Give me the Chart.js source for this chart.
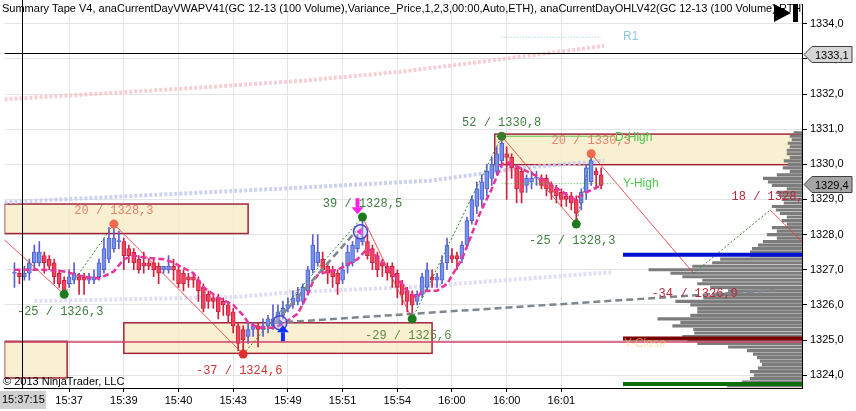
<!DOCTYPE html>
<html>
<head>
<meta charset="utf-8">
<script src="https://cdn.jsdelivr.net/npm/chart.js@4.4.0/dist/chart.umd.min.js"></script>
<style>
  html, body { margin: 0; padding: 0; background: #fff; }
</style>
</head>
<body>
<canvas id="chart" width="856" height="411"></canvas>
<script>
// GC 12-13, 100 volume bars
const opens  = [1326.9,1326.9,1326.8,1326.9,1327.2,1327.2,1327.4,1327.3,1327.2,1326.9,1326.7,1326.6,1326.7,1326.8,1326.8,1326.7,1326.7,1326.8,1327.0,1327.3,
                1327.6,1327.8,1327.8,1327.6,1327.5,1327.3,1327.2,1327.2,1327.2,1327.1,1327.0,1327.0,1327.1,1327.0,1326.9,1326.8,1326.8,1326.7,1326.5,1326.3,
                1326.2,1326.2,1326.1,1326.0,1325.8,1325.4,1325.3,1325.1,1325.3,1325.4,1325.3,1325.4,1325.4,1325.6,1325.7,1325.9,1326.0,1326.1,1326.1,1326.4,
                1327.0,1327.2,1327.3,1327.1,1327.0,1326.9,1326.7,1327.1,1327.2,1327.6,1327.8,1327.8,1327.6,1327.4,1327.2,1327.1,1327.1,1326.9,1326.6,1326.4,
                1326.3,1326.1,1326.3,1326.5,1326.8,1326.7,1326.7,1327.2,1327.4,1327.4,1327.3,1327.7,1328.4,1328.8,1329.0,1329.3,1329.6,1329.8,1330.1,1330.3,
                1330.2,1329.9,1329.8,1329.4,1329.5,1329.6,1329.6,1329.6,1329.4,1329.3,1329.2,1329.1,1329.1,1329.0,1328.9,1329.2,1329.5,1329.8,1329.7];
const highs  = [1327.2,1327.0,1327.1,1327.3,1327.7,1327.8,1327.5,1327.4,1327.3,1327.0,1326.8,1327.0,1327.2,1326.9,1326.9,1326.9,1327.0,1327.3,1327.9,1328.2,
                1328.3,1328.1,1327.9,1327.7,1327.6,1327.4,1327.5,1327.3,1327.3,1327.2,1327.1,1327.4,1327.3,1327.1,1327.0,1326.9,1326.9,1326.8,1326.6,1326.4,
                1326.3,1326.3,1326.2,1326.1,1325.9,1325.5,1325.4,1325.5,1325.5,1325.5,1325.6,1325.7,1326.0,1326.0,1326.1,1326.2,1326.4,1326.5,1326.6,1327.1,
                1328.0,1328.0,1327.5,1327.2,1327.1,1327.0,1327.2,1327.7,1327.8,1328.0,1328.5,1328.0,1327.7,1327.5,1327.3,1327.2,1327.2,1327.0,1326.7,1326.5,
                1326.4,1326.4,1326.9,1327.2,1327.0,1326.9,1327.4,1327.9,1327.6,1327.5,1327.8,1328.5,1329.1,1329.5,1329.7,1330.0,1330.2,1330.5,1330.8,1330.5,
                1330.3,1330.0,1329.9,1329.7,1329.8,1329.8,1329.7,1329.7,1329.5,1329.4,1329.3,1329.2,1329.2,1329.1,1329.3,1330.0,1330.3,1329.9,1329.9];
const lows   = [1326.5,1326.6,1326.7,1326.7,1327.0,1327.1,1326.9,1327.0,1326.6,1326.5,1326.3,1326.5,1326.6,1326.3,1326.3,1326.6,1326.6,1326.7,1326.9,1327.2,
                1327.5,1327.6,1327.0,1327.2,1327.0,1326.9,1326.9,1327.0,1326.8,1326.6,1326.9,1326.9,1326.7,1326.5,1326.4,1326.5,1326.5,1326.1,1325.8,1325.9,
                1325.9,1325.6,1325.7,1325.5,1325.2,1324.7,1324.6,1324.9,1325.1,1324.8,1325.1,1325.2,1325.3,1325.5,1325.6,1325.8,1325.9,1326.0,1326.0,1326.3,
                1326.9,1327.1,1326.9,1326.6,1326.5,1326.3,1326.6,1326.9,1327.1,1327.5,1327.7,1327.3,1327.0,1326.8,1326.8,1326.7,1326.5,1326.2,1326.0,1325.8,
                1325.6,1326.0,1326.2,1326.4,1326.5,1326.5,1326.6,1327.0,1327.2,1327.0,1327.2,1327.6,1328.3,1328.6,1328.8,1329.1,1329.4,1329.7,1329.9,1329.0,
                1329.6,1328.9,1328.9,1329.2,1329.3,1329.4,1329.3,1329.1,1329.0,1328.9,1328.8,1328.8,1328.7,1328.3,1328.7,1329.0,1329.4,1329.3,1329.3];
const closes = [1326.9,1326.8,1326.9,1327.2,1327.5,1327.5,1327.2,1327.1,1326.8,1326.6,1326.4,1326.8,1326.9,1326.7,1326.7,1326.8,1326.8,1327.2,1327.6,1327.9,
                1327.9,1327.8,1327.4,1327.4,1327.2,1327.0,1327.1,1327.1,1327.0,1326.9,1327.1,1327.1,1327.0,1326.6,1326.6,1326.7,1326.7,1326.4,1325.9,1326.1,
                1326.1,1325.8,1326.0,1325.7,1325.4,1324.9,1325.0,1325.3,1325.4,1325.3,1325.4,1325.6,1325.6,1325.8,1325.9,1326.0,1326.2,1326.3,1326.5,1327.0,
                1327.7,1327.5,1327.0,1326.9,1326.8,1326.6,1327.0,1327.5,1327.7,1327.9,1327.9,1327.4,1327.2,1327.0,1327.1,1326.9,1326.8,1326.5,1326.3,1326.1,
                1326.0,1326.3,1326.8,1327.0,1326.7,1326.8,1327.2,1327.7,1327.3,1327.3,1327.7,1328.4,1329.0,1329.3,1329.5,1329.8,1330.0,1330.3,1330.6,1330.2,
                1329.9,1329.3,1329.2,1329.6,1329.6,1329.6,1329.4,1329.3,1329.2,1329.1,1329.0,1329.0,1328.9,1328.6,1329.2,1329.9,1330.1,1329.7,1329.4];

// time axis
const tickIdx    = [11, 22, 33, 44, 55, 66, 77, 88, 99, 110];
const tickLabels = ['15:37', '15:39', '15:40', '15:43', '15:49', '15:51', '15:54', '16:00', '16:00', '16:01'];
const priceTicks = [1324, 1325, 1326, 1327, 1328, 1329, 1330, 1331, 1332, 1333, 1334];

// trailing line (pink dashed)
const trailIdx   = [0, 6, 10, 14, 17, 20, 22, 24, 26, 30, 32, 36, 38, 41, 44, 46, 47, 49, 52, 54, 57, 59, 60, 61, 63, 65, 67, 69, 71, 72, 74, 77, 79, 81, 82, 85, 87, 90, 91.4, 93.6, 96, 98, 99.4, 106, 112.6, 115, 118];
const trailPrice = [1327.0, 1327.0, 1326.95, 1326.8, 1326.75, 1326.95, 1327.3, 1327.4, 1327.35, 1327.3, 1327.2, 1326.9, 1326.5, 1326.2, 1326.0, 1325.7, 1325.5, 1325.35, 1325.35, 1325.45, 1325.75, 1326.3, 1326.65, 1326.85, 1326.95, 1327.0, 1327.15, 1327.3, 1327.6, 1327.5, 1327.2, 1326.75, 1326.4, 1326.2, 1326.4, 1326.4, 1326.6, 1327.3, 1327.8, 1328.6, 1329.3, 1330.0, 1330.05, 1329.6, 1329.0, 1329.2, 1329.4];

// VWAP bands
const vwapHiIdx   = [-2, 18, 38, 58, 84, 102, 118.6];
const vwapHiPrice = [1328.92, 1329.06, 1329.2, 1329.34, 1329.54, 1329.9, 1330.1];
const vwapLoIdx   = [4, 44, 56, 83, 88, 120];
const vwapLoPrice = [1326.11, 1326.22, 1326.36, 1326.53, 1326.59, 1326.93];
const bandTopIdx   = [-2, 18, 38, 58, 78, 94, 106, 118.6];
const bandTopPrice = [1331.85, 1332.02, 1332.19, 1332.38, 1332.64, 1332.92, 1333.14, 1333.37];

// swings
const swingIdx   = [10, 20, 46, 70, 80, 98, 113, 116];
const swingPrice = [1326.3, 1328.3, 1324.6, 1328.5, 1325.6, 1330.8, 1328.3, 1330.3];
const swingNum   = [-25, 20, -37, 39, -29, 52, -25, 20];
const projIdx    = [136.6, 152];
const projPrice  = [1326.9, 1328.7];
const projNum    = [-34, 18];
const zigStart   = 1327.85;
const zigEnd     = 1327.8;

// volume profile
const profilePrice = [1330.9,1330.8,1330.7,1330.6,1330.5,1330.4,1330.3,1330.2,1330.1,1330.0,
                      1329.9,1329.8,1329.7,1329.6,1329.5,1329.4,1329.3,1329.2,1329.1,1329.0,
                      1328.9,1328.8,1328.7,1328.6,1328.5,1328.4,1328.3,1328.2,1328.1,1328.0,
                      1327.9,1327.8,1327.7,1327.6,1327.5,1327.4,1327.3,1327.2,1327.1,1327.0,
                      1326.9,1326.8,1326.7,1326.6,1326.5,1326.4,1326.3,1326.2,1326.1,1326.0,
                      1325.9,1325.8,1325.7,1325.6,1325.5,1325.4,1325.3,1325.2,1325.1,1325.0,
                      1324.9,1324.8,1324.7,1324.6,1324.5,1324.4,1324.3,1324.2,1324.1,1324.0,
                      1323.9,1323.8,1323.7];
const profileVol = [8,12,10,14,12,15,15,12,18,14,
                    19,12,25,39,34,30,15,25,22,20,
                    18,30,26,22,15,20,15,30,25,35,
                    25,39,44,50,52,52,82,90,110,154,
                    132,120,100,105,92,74,90,99,127,112,
                    105,105,112,145,122,130,109,108,120,115,
                    105,74,55,49,45,42,40,44,52,48,
                    52,60,75];

// levels / zones
const yHigh = 1329.45, dHigh = 1330.8, r1 = 1333.62;
const levelBlue = 1327.43, levelRed = 1325.04, levelGreen = 1323.75, levelLine = 1324.94;
const boxStart  = [-2, 22, -2, 96.6];
const boxEnd    = [47, 84, 10.6, 158.4];
const boxTop    = [1328.87, 1325.49, 1324.96, 1330.86];
const boxBottom = [1328.03, 1324.62, 1323.92, 1329.99];
const anchorIdx = 52.4, anchorPrice = 1325.49;
const rayEndIdx = [153, 68.6], rayEndPrice = [1326.42, 1328.08];
const lastPrice = 1329.4, crossPrice = 1333.1;

const xMin = -2, xMax = 158.4, yMin = 1323.634, yMax = 1334.549;
const volPerBar = 5;   // profile volume units per bar slot on the time axis
const fmt = v => v.toFixed(1).replace('.', ',');
const up = i => closes[i] >= opens[i];
const pts = (xs, ys) => xs.map((x, k) => ({ x: x, y: ys[k] }));
const seg = (x0, x1, v) => [{ x: x0, y: v }, { x: x1, y: v }];

const swingDot   = ['#1e7a1e', '#f06a50', '#e03030', '#1e7a1e', '#1e7a1e', '#3a7a2a', '#1e7a1e', '#f06a50'];
const swingColor = ['#3f7f3f', '#e8806c', '#d03434', '#3f7f3f', '#5a8a4a', '#3f7f3f', '#3f7f3f', '#e8806c'];

const zig = [{ x: xMin, y: zigStart }].concat(pts(swingIdx, swingPrice), pts(projIdx, projPrice), [{ x: xMax, y: zigEnd }]);

const overlay = {
  id: 'overlay',
  beforeDatasetsDraw(chart) {
    const { ctx, chartArea: a, scales: { x, y } } = chart;
    ctx.save();
    ctx.beginPath(); ctx.rect(a.left, a.top, a.right - a.left, a.bottom - a.top); ctx.clip();
    for (let k = 0; k < boxStart.length; k++) {
      const x0 = x.getPixelForValue(boxStart[k]), x1 = x.getPixelForValue(boxEnd[k]);
      const y0 = y.getPixelForValue(boxTop[k]), y1 = y.getPixelForValue(boxBottom[k]);
      ctx.fillStyle = 'rgba(246,236,198,0.8)';
      ctx.fillRect(x0, y0, x1 - x0, y1 - y0);
      ctx.strokeStyle = '#a3243a';
      ctx.lineWidth = 1.5;
      ctx.strokeRect(x0, y0, x1 - x0, y1 - y0);
    }
    ctx.restore();
  },
  afterDatasetsDraw(chart) {
    const { ctx, chartArea: a, scales: { x, y } } = chart;
    ctx.save();
    ctx.beginPath(); ctx.rect(0, 0, a.right, a.bottom); ctx.clip();

    // swing labels
    ctx.font = '12px "Liberation Mono", "DejaVu Sans Mono", monospace';
    ctx.textAlign = 'center';
    ctx.textBaseline = 'middle';
    swingIdx.forEach((i, k) => {
      const px = x.getPixelForValue(i), py = y.getPixelForValue(swingPrice[k]);
      ctx.fillStyle = swingColor[k];
      ctx.fillText(swingNum[k] + ' / ' + fmt(swingPrice[k]), px + (swingNum[k] < 0 ? -4 : 0), py + (swingNum[k] < 0 ? 17 : -13));
    });
    projIdx.forEach((i, k) => {
      const px = x.getPixelForValue(i), py = y.getPixelForValue(projPrice[k]);
      ctx.fillStyle = '#b8283c';
      ctx.fillText(projNum[k] + ' / ' + fmt(projPrice[k]), px + 1, py + (projNum[k] < 0 ? 21 : -13));
    });

    // level names
    ctx.font = '12px "Liberation Sans", Arial, sans-serif';
    ctx.textAlign = 'left';
    ctx.fillStyle = '#90c8e2';
    ctx.fillText('R1', x.getPixelForValue(122.4), y.getPixelForValue(r1));
    ctx.fillStyle = '#4cc84c';
    ctx.fillText('D-High', x.getPixelForValue(120.8), y.getPixelForValue(dHigh) + 1);
    ctx.fillText('Y-High', x.getPixelForValue(122.4), y.getPixelForValue(yHigh));
    ctx.fillStyle = 'rgba(242,214,120,0.6)';
    ctx.fillText('Y-Close', x.getPixelForValue(122.6), y.getPixelForValue(levelLine) + 2);

    // signal markers
    const cx1 = x.getPixelForValue(53.4), cy1 = y.getPixelForValue(anchorPrice);
    const cx2 = x.getPixelForValue(69.6), cy2 = y.getPixelForValue(1328.08);
    [[cx1, cy1], [cx2, cy2]].forEach(c => {
      ctx.beginPath(); ctx.arc(c[0], c[1], 7, 0, Math.PI * 2);
      ctx.fillStyle = 'rgba(190,190,240,0.35)'; ctx.fill();
      ctx.strokeStyle = '#4848c8'; ctx.lineWidth = 1.5; ctx.stroke();
    });
    ctx.fillStyle = '#ff2cd8';
    ctx.beginPath(); ctx.moveTo(cx2 - 4, cy2); ctx.lineTo(cx2 + 1, cy2 - 4); ctx.lineTo(cx2 + 1, cy2 + 4); ctx.fill();
    ctx.fillStyle = '#7070e0';
    ctx.beginPath(); ctx.moveTo(cx1 + 4, cy1); ctx.lineTo(cx1 - 1, cy1 - 4); ctx.lineTo(cx1 - 1, cy1 + 4); ctx.fill();

    const ax = x.getPixelForValue(54), ay = y.getPixelForValue(1325.42);
    ctx.fillStyle = '#1030ff';
    ctx.beginPath(); ctx.moveTo(ax, ay); ctx.lineTo(ax + 6, ay + 7); ctx.lineTo(ax - 6, ay + 7); ctx.fill();
    ctx.fillRect(ax - 2, ay + 7, 4, 9);
    const dx = x.getPixelForValue(69), dy = y.getPixelForValue(1328.58);
    ctx.fillStyle = '#ff20e8';
    ctx.beginPath(); ctx.moveTo(dx, dy); ctx.lineTo(dx + 6, dy - 7); ctx.lineTo(dx - 6, dy - 7); ctx.fill();
    ctx.fillRect(dx - 2, dy - 16, 4, 9);

    // crosshair
    ctx.strokeStyle = '#000';
    ctx.lineWidth = 1;
    const hx = Math.round(x.getPixelForValue(1.6)) + 0.5, hy = Math.round(y.getPixelForValue(crossPrice + 0.07)) + 0.5;
    ctx.beginPath(); ctx.moveTo(hx, 0); ctx.lineTo(hx, a.bottom); ctx.stroke();
    ctx.beginPath(); ctx.moveTo(a.left, hy); ctx.lineTo(a.right, hy); ctx.stroke();

    // header text
    ctx.fillStyle = '#000';
    ctx.font = '11px "Liberation Sans", Arial, sans-serif';
    ctx.textBaseline = 'alphabetic';
    ctx.fillText('Summary Tape V4, anaCurrentDayVWAPV41(GC 12-13 (100 Volume),Variance_Price,1,2,3,00:00,Auto,ETH), anaCurrentDayOHLV42(GC 12-13 (100 Volume),RTH)', 2, 12);
    ctx.fillText('\u00A9 2013 NinjaTrader, LLC', 3, 385);
    ctx.beginPath(); ctx.moveTo(774, 4); ctx.lineTo(791, 13); ctx.lineTo(774, 22); ctx.fill();
    ctx.fillRect(793, 4, 5, 18);
    ctx.restore();
  },
  afterDraw(chart) {
    const { ctx, scales: { y } } = chart;
    ctx.save();
    ctx.font = '11px "Liberation Sans", Arial, sans-serif';
    ctx.textBaseline = 'middle';
    ctx.textAlign = 'left';
    const tag = (v, fill) => {
      const py = Math.round(y.getPixelForValue(v + 0.04)) + 0.5;
      ctx.beginPath();
      ctx.moveTo(804, py); ctx.lineTo(812, py - 8); ctx.lineTo(852, py - 8);
      ctx.lineTo(852, py + 8); ctx.lineTo(812, py + 8); ctx.closePath();
      ctx.fillStyle = fill; ctx.fill();
      ctx.strokeStyle = '#404040'; ctx.lineWidth = 1; ctx.stroke();
      ctx.fillStyle = '#000';
      ctx.fillText(fmt(v), 815, py + 1);
    };
    tag(crossPrice, '#d6d6d6');
    tag(lastPrice, '#a4a4a4');
    ctx.fillStyle = '#d0d0d0';
    ctx.fillRect(0, 391, 46, 18);
    ctx.fillStyle = '#000';
    ctx.fillText('15:37:15', 2, 400);
    ctx.restore();
  }
};

const lineDs = (data, color, width, dash, order) => ({
  type: 'line', data: data, borderColor: color, borderWidth: width, borderDash: dash,
  pointRadius: 0, fill: false, tension: 0, order: order
});

new Chart(document.getElementById('chart'), {
  type: 'bar',
  data: {
    datasets: [
      {
        type: 'bar', indexAxis: 'y', order: 20, grouped: false,
        data: profilePrice.map((p, k) => ({ x: [xMax - profileVol[k] / volPerBar, xMax], y: p })),
        backgroundColor: '#7c7c7c', barThickness: 2.5, borderWidth: 0
      },
      lineDs(pts(bandTopIdx, bandTopPrice), 'rgba(245,190,200,0.75)', 4, [3, 2], 15),
      lineDs(pts(vwapHiIdx, vwapHiPrice), 'rgba(200,200,240,0.85)', 4, [3, 2], 15),
      lineDs(pts(vwapLoIdx, vwapLoPrice), 'rgba(214,214,244,0.8)', 4, [3, 2], 15),
      lineDs(seg(98, 118, r1), '#8cc8e0', 1, [1, 2], 15),
      {
        type: 'bar', order: 12, grouped: false, barThickness: 1, borderWidth: 0,
        data: opens.map((o, i) => ({ x: i, y: [lows[i], highs[i]] })),
        backgroundColor: c => up(c.dataIndex) ? '#5d5dcf' : '#d0203e'
      },
      {
        type: 'bar', order: 11, grouped: false, barThickness: 4, minBarLength: 1,
        borderWidth: 1, borderSkipped: false,
        data: opens.map((o, i) => ({ x: i, y: [o, closes[i]] })),
        backgroundColor: c => up(c.dataIndex) ? '#7094ec' : '#f2445e',
        borderColor: c => up(c.dataIndex) ? '#5a5fd0' : '#cc2040'
      },
      lineDs(pts(trailIdx, trailPrice), '#e8349c', 2.5, [6, 3], 8),
      lineDs([{ x: anchorIdx, y: anchorPrice }, { x: rayEndIdx[0], y: rayEndPrice[0] }], '#80868e', 2.5, [7, 4], 7),
      lineDs([{ x: anchorIdx, y: anchorPrice }, { x: rayEndIdx[1], y: rayEndPrice[1] }], '#80868e', 2.5, [7, 4], 7),
      {
        type: 'line', data: zig, borderWidth: 1, pointRadius: 0, tension: 0, order: 6, borderColor: '#e03838',
        segment: {
          borderColor: c => c.p1.parsed.y > c.p0.parsed.y ? '#2e8b2e' : '#e03838',
          borderDash: c => c.p1.parsed.y > c.p0.parsed.y ? [2, 2] : [1, 0]
        }
      },
      lineDs(seg(xMin, xMax, levelLine), '#d0406a', 1.5, [], 5),
      lineDs(seg(122.4, xMax, levelBlue), '#0010d0', 4, [], 4),
      lineDs(seg(122.4, xMax, levelRed), '#7a0000', 4, [], 4),
      lineDs(seg(122.4, xMax, levelGreen), '#0a6e0a', 4, [], 4),
      lineDs(seg(98, 121.4, yHigh), '#40c040', 1, [1, 2], 4),
      lineDs(seg(96.6, 120.5, dHigh), '#50c850', 1, [], 4),
      {
        type: 'line', showLine: false, order: 1, data: pts(swingIdx, swingPrice),
        pointRadius: 4.5, pointBorderWidth: 0, pointBackgroundColor: swingDot
      }
    ]
  },
  options: {
    responsive: false,
    devicePixelRatio: 1,
    animation: false,
    events: [],
    layout: { padding: 0 },
    plugins: { legend: { display: false }, tooltip: { enabled: false }, title: { display: false } },
    scales: {
      x: {
        type: 'linear', position: 'bottom', min: xMin, max: xMax, offset: false,
        afterBuildTicks: s => { s.ticks = tickIdx.map(v => ({ value: v })); },
        afterFit: s => { s.height = 23; s.paddingLeft = 0; s.paddingRight = 0; },
        ticks: {
          callback: v => tickLabels[tickIdx.indexOf(v)] || '',
          autoSkip: false, maxRotation: 0, padding: 2, color: '#000',
          font: { family: '"Liberation Sans", Arial, sans-serif', size: 11 }
        },
        grid: { color: '#e4e4e4', tickColor: '#000', tickLength: 4, offset: false },
        border: { color: '#000', width: 1 }
      },
      y: {
        type: 'linear', position: 'right', min: yMin, max: yMax, offset: false,
        afterBuildTicks: s => { s.ticks = priceTicks.map(v => ({ value: v })); },
        afterFit: s => { s.width = 54; s.paddingTop = 0; s.paddingBottom = 0; },
        ticks: {
          callback: v => fmt(v), padding: 3, color: '#000',
          font: { family: '"Liberation Sans", Arial, sans-serif', size: 11 }
        },
        grid: { color: '#e4e4e4', tickColor: '#000', tickLength: 5, offset: false },
        border: { color: '#000', width: 1 }
      }
    }
  },
  plugins: [overlay]
});
</script>
</body>
</html>
